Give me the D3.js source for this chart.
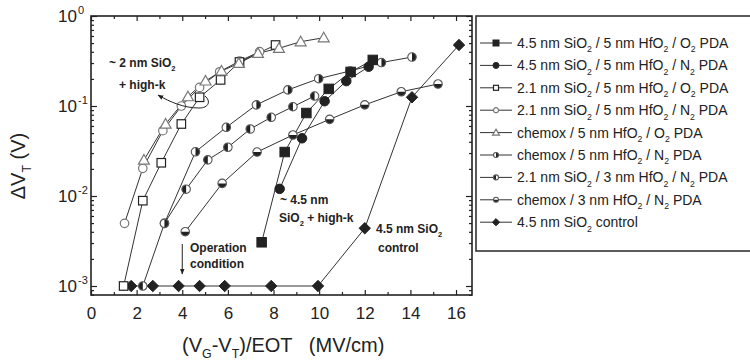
<!DOCTYPE html>
<html>
<head>
<meta charset="utf-8">
<script src="https://cdn.jsdelivr.net/npm/d3@7/dist/d3.min.js"></script>
<style>
  body { margin: 0; background: #fff; }
  svg { display: block; }
  text { font-family: "Liberation Sans", Arial, sans-serif; fill: #222; }
</style>
</head>
<body>
<svg id="chart" width="750" height="362"></svg>
<script>
// ---- Data: field (MV/cm) and threshold-voltage shift (V) per stack ----
const ox45hf5O2_field = [7.48, 8.49, 9.44, 10.42, 11.38, 12.35];
const ox45hf5O2_shift = [0.00306, 0.0308, 0.0836, 0.155, 0.239, 0.325];

const ox45hf5N2_field = [8.27, 9.25, 10.24, 11.19, 12.17];
const ox45hf5N2_shift = [0.0120, 0.0438, 0.113, 0.189, 0.273];

const ox21hf5O2_field = [1.43, 2.27, 3.08, 3.96, 4.76, 5.68, 6.51, 8.09];
const ox21hf5O2_shift = [0.001, 0.00887, 0.0234, 0.0631, 0.125, 0.195, 0.308, 0.476];

const ox21hf5N2_field = [1.47, 2.27, 3.15, 3.96, 4.76, 5.64, 6.51, 7.39];
const ox21hf5N2_shift = [0.00497, 0.0203, 0.0532, 0.100, 0.161, 0.240, 0.316, 0.401];

const chemHf5O2_field = [2.32, 3.27, 4.25, 5.02, 5.72, 6.48, 7.32, 8.24, 9.19, 10.2];
const chemHf5O2_shift = [0.0251, 0.0631, 0.127, 0.190, 0.245, 0.298, 0.385, 0.438, 0.518, 0.574];

const chemHf5N2_field = [3.22, 4.58, 5.93, 7.25, 8.63, 9.98, 11.36, 12.73, 14.07];
const chemHf5N2_shift = [0.00497, 0.0310, 0.0580, 0.103, 0.151, 0.201, 0.245, 0.304, 0.350];

const ox21hf3N2_field = [2.27, 3.22, 4.17, 5.12, 6.0, 6.98, 7.9, 8.85, 9.8];
const ox21hf3N2_shift = [0.001, 0.00497, 0.0119, 0.0252, 0.0348, 0.0555, 0.0749, 0.0982, 0.129];

const chemHf3N2_field = [4.13, 5.75, 7.28, 8.85, 10.46, 12.0, 13.6, 15.21];
const chemHf3N2_shift = [0.00401, 0.0138, 0.0308, 0.0476, 0.0711, 0.103, 0.144, 0.1755];

const ox45ctrl_field = [1.76, 2.71, 3.84, 4.76, 5.86, 7.9, 9.95, 12.0, 14.07, 16.13];
const ox45ctrl_shift = [0.001, 0.001, 0.001, 0.001, 0.001, 0.001, 0.001, 0.00438, 0.125, 0.476];

const legendLabels = [
  "4.5 nm SiO_2 / 5 nm HfO_2 / O_2 PDA",
  "4.5 nm SiO_2 / 5 nm HfO_2 / N_2 PDA",
  "2.1 nm SiO_2 / 5 nm HfO_2 / O_2 PDA",
  "2.1 nm SiO_2 / 5 nm HfO_2 / N_2 PDA",
  "chemox / 5 nm HfO_2 / O_2 PDA",
  "chemox / 5 nm HfO_2 / N_2 PDA",
  "2.1 nm SiO_2 / 3 nm HfO_2 / N_2 PDA",
  "chemox / 3 nm HfO_2 / N_2 PDA",
  "4.5 nm SiO_2 control"
];
const markerKinds = ["squareFill", "circleFill", "squareOpen", "circleOpen", "triangleOpen",
                     "halfRight", "halfLeft", "halfBottom", "diamondFill"];

const xTickValues = [0, 2, 4, 6, 8, 10, 12, 14, 16];
const xMinorValues = [1, 3, 5, 7, 9, 11, 13, 15];
const yDecades = [1e-3, 1e-2, 1e-1, 1];
const yDecadeExp = ["-3", "-2", "-1", "0"];

const seriesFields = [ox45hf5O2_field, ox45hf5N2_field, ox21hf5O2_field, ox21hf5N2_field,
  chemHf5O2_field, chemHf5N2_field, ox21hf3N2_field, chemHf3N2_field, ox45ctrl_field];
const seriesShifts = [ox45hf5O2_shift, ox45hf5N2_shift, ox21hf5O2_shift, ox21hf5N2_shift,
  chemHf5O2_shift, chemHf5N2_shift, ox21hf3N2_shift, chemHf3N2_shift, ox45ctrl_shift];

// ---- Layout ----
const plot = { left: 91, right: 472, top: 16, bottom: 295 };
const ink = "#222";

const svg = d3.select("#chart");
const x = d3.scaleLinear().domain([0, 16.7]).range([plot.left, plot.right]);
const y = d3.scaleLog().domain([Math.pow(10, -3.1), 1]).range([plot.bottom, plot.top]);

// text with "_c" subscripts
function rich(text, str, fs) {
  let shift = 0;
  str.split(/(_.)/).filter(Boolean).forEach(p => {
    if (p[0] === "_" && p.length === 2) {
      text.append("tspan").attr("font-size", fs * 0.62).attr("dy", fs * 0.32 - shift).text(p[1]);
      shift = fs * 0.32;
    } else {
      text.append("tspan").attr("dy", -shift).text(p);
      shift = 0;
    }
  });
  return text;
}

// marker glyphs
function drawMarker(g, kind, s) {
  const r = s / 2;
  const halfStroke = "#555";
  switch (kind) {
    case "squareFill":
      g.append("rect").attr("x", -r).attr("y", -r).attr("width", s).attr("height", s)
        .attr("fill", ink).attr("stroke", ink).attr("stroke-width", 1);
      break;
    case "squareOpen":
      g.append("rect").attr("x", -r + 0.5).attr("y", -r + 0.5).attr("width", s - 1).attr("height", s - 1)
        .attr("fill", "#fff").attr("stroke", ink).attr("stroke-width", 1.2);
      break;
    case "circleFill":
      g.append("circle").attr("r", r).attr("fill", ink).attr("stroke", ink);
      break;
    case "circleOpen":
      g.append("circle").attr("r", r - 0.5).attr("fill", "#fff").attr("stroke", "#777").attr("stroke-width", 1.2);
      break;
    case "triangleOpen": {
      const t = r * 1.15;
      g.append("path").attr("d", `M0,${-t} L${t},${t * 0.75} L${-t},${t * 0.75} Z`)
        .attr("fill", "#fff").attr("stroke", "#777").attr("stroke-width", 1.2);
      break;
    }
    case "diamondFill": {
      const d = r * 1.2;
      g.append("path").attr("d", `M0,${-d} L${d},0 L0,${d} L${-d},0 Z`)
        .attr("fill", ink).attr("stroke", ink);
      break;
    }
    case "halfRight":
    case "halfLeft":
    case "halfBottom": {
      const rr = r - 0.5;
      g.append("circle").attr("r", rr).attr("fill", "#fff");
      let d;
      if (kind === "halfRight") d = `M0,${-rr} A${rr},${rr} 0 0 1 0,${rr} Z`;
      else if (kind === "halfLeft") d = `M0,${-rr} A${rr},${rr} 0 0 0 0,${rr} Z`;
      else d = `M${-rr},0 A${rr},${rr} 0 0 0 ${rr},0 Z`;
      g.append("path").attr("d", d).attr("fill", ink);
      g.append("circle").attr("r", rr).attr("fill", "none").attr("stroke", halfStroke).attr("stroke-width", 1.1);
      break;
    }
  }
}

// ---- Series lines ----
const line = d3.line().x(d => x(d[0])).y(d => y(d[1]));
const drawOrder = [8, 7, 6, 5, 3, 2, 4, 1, 0];
const seriesData = seriesFields.map((f, i) => f.map((v, j) => [v, seriesShifts[i][j]]));

const linesG = svg.append("g");
drawOrder.forEach(i => {
  linesG.append("path").datum(seriesData[i]).attr("d", line)
    .attr("fill", "none").attr("stroke", "#333").attr("stroke-width", 1);
});

// ---- Series markers ----
const markG = svg.append("g");
drawOrder.forEach(i => {
  seriesData[i].forEach(d => {
    const g = markG.append("g").attr("transform", `translate(${x(d[0])},${y(d[1])})`);
    drawMarker(g, markerKinds[i], 9.5);
  });
});

// ---- Axes ----
const axG = svg.append("g");
axG.append("g").attr("transform", `translate(0,${plot.bottom})`)
  .call(d3.axisBottom(x).tickValues(xTickValues).tickSize(-5).tickPadding(12).tickFormat(d3.format("d")))
  .call(g => { g.select(".domain").remove(); g.selectAll("text").attr("font-size", 17).attr("font-family", null); });
axG.append("g").attr("transform", `translate(0,${plot.bottom})`)
  .call(d3.axisBottom(x).tickValues(xMinorValues).tickSize(-3).tickFormat(""))
  .call(g => g.select(".domain").remove());
axG.append("g").attr("transform", `translate(0,${plot.top})`)
  .call(d3.axisTop(x).tickValues(xTickValues).tickSize(-5).tickFormat(""))
  .call(g => g.select(".domain").remove());
axG.append("g").attr("transform", `translate(0,${plot.top})`)
  .call(d3.axisTop(x).tickValues(xMinorValues).tickSize(-3).tickFormat(""))
  .call(g => g.select(".domain").remove());

const yMinor = [];
for (let e = -4; e < 0; e++) for (let k = 2; k <= 9; k++) {
  const v = k * Math.pow(10, e);
  if (v >= y.domain()[0] && v <= 1) yMinor.push(v);
}
axG.append("g").attr("transform", `translate(${plot.left},0)`)
  .call(d3.axisLeft(y).tickValues(yDecades).tickSize(-6).tickPadding(8).tickFormat(""))
  .call(g => g.select(".domain").remove());
axG.append("g").attr("transform", `translate(${plot.left},0)`)
  .call(d3.axisLeft(y).tickValues(yMinor).tickSize(-3).tickFormat(""))
  .call(g => g.select(".domain").remove());
axG.append("g").attr("transform", `translate(${plot.right},0)`)
  .call(d3.axisRight(y).tickValues(yDecades).tickSize(-6).tickFormat(""))
  .call(g => g.select(".domain").remove());
axG.append("g").attr("transform", `translate(${plot.right},0)`)
  .call(d3.axisRight(y).tickValues(yMinor).tickSize(-3).tickFormat(""))
  .call(g => g.select(".domain").remove());
axG.selectAll(".tick line").attr("stroke", ink).attr("stroke-width", 1.2);

// decade labels 10^n
yDecades.forEach((v, i) => {
  const t = svg.append("text").attr("x", 77).attr("y", y(v) + 6)
    .attr("text-anchor", "end").attr("font-size", 17).text("10");
  svg.append("text").attr("x", 78).attr("y", y(v) - 2)
    .attr("font-size", 11).text(yDecadeExp[i]);
});

// frame
svg.append("rect").attr("x", plot.left).attr("y", plot.top)
  .attr("width", plot.right - plot.left).attr("height", plot.bottom - plot.top)
  .attr("fill", "none").attr("stroke", ink).attr("stroke-width", 1.6);

// axis titles
rich(svg.append("text").attr("x", 182).attr("y", 352).attr("font-size", 20)
  .style("white-space", "pre"), "(V_G-V_T)/EOT   (MV/cm)", 20);
rich(svg.append("text").attr("transform", "translate(25,166) rotate(-90)")
  .attr("text-anchor", "middle").attr("font-size", 20), "\u0394V_T (V)", 20);

// ---- Annotations ----
const defs = svg.append("defs");
defs.append("marker").attr("id", "ah").attr("viewBox", "0 0 10 10")
  .attr("refX", 9).attr("refY", 5).attr("markerWidth", 6).attr("markerHeight", 6)
  .attr("orient", "auto-start-reverse")
  .append("path").attr("d", "M0,1 L10,5 L0,9 Z").attr("fill", ink);

const note = (tx, ty, str) => rich(svg.append("text").attr("x", tx).attr("y", ty)
  .attr("font-size", 12).attr("font-weight", "bold"), str, 12);

note(109, 67, "~ 2 nm SiO_2");
note(119, 89, "+ high-k");
svg.append("path")
  .attr("d", `M158,95 C170,102 184,108 199,108 C209,108 211,101 205,96`)
  .attr("fill", "none").attr("stroke", ink).attr("stroke-width", 1)
  .attr("marker-start", "url(#ah)");

note(280, 204, "~ 4.5 nm");
note(279, 222, "SiO_2 + high-k");
note(376, 233, "4.5 nm SiO_2");
note(378, 252, "control");
note(190, 252, "Operation");
note(190, 268, "condition");
svg.append("line").attr("x1", x(4)).attr("x2", x(4)).attr("y1", 244).attr("y2", 274)
  .attr("stroke", ink).attr("stroke-width", 1).attr("marker-end", "url(#ah)");

// ---- Legend ----
const leg = svg.append("g");
leg.append("rect").attr("x", 476).attr("y", 16).attr("width", 275).attr("height", 235)
  .attr("fill", "#fff").attr("stroke", "#333").attr("stroke-width", 1.6);
legendLabels.forEach((lab, i) => {
  const ry = 43 + 22.4 * i;
  leg.append("line").attr("x1", 480).attr("x2", 512).attr("y1", ry).attr("y2", ry)
    .attr("stroke", "#333").attr("stroke-width", 1);
  drawMarker(leg.append("g").attr("transform", `translate(496,${ry})`), markerKinds[i], 6);
  rich(leg.append("text").attr("x", 517).attr("y", ry + 5).attr("font-size", 14), lab, 14);
});
</script>
</body>
</html>
